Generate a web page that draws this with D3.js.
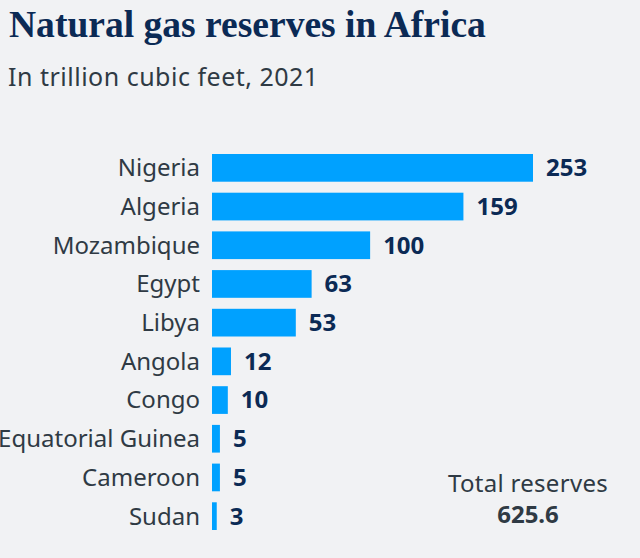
<!DOCTYPE html>
<html>
<head>
<meta charset="utf-8">
<script src="https://cdn.jsdelivr.net/npm/d3@7"></script>
<style>
  html, body { margin: 0; padding: 0; background: #f1f2f4; }
  svg { display: block; }
</style>
</head>
<body>
<svg id="chart" width="640" height="558"></svg>
<script>
const countries = ["Nigeria", "Algeria", "Mozambique", "Egypt", "Libya", "Angola", "Congo", "Equatorial Guinea", "Cameroon", "Sudan"];
const reserves = [253, 159, 100, 63, 53, 12, 10, 5, 5, 3];
const titleText = "Natural gas reserves in Africa";
const subtitleText = "In trillion cubic feet, 2021";
const totalLabel = "Total reserves";
const totalValue = "625.6";

const svg = d3.select("#chart");
const W = 640, H = 558;
svg.append("rect").attr("width", W).attr("height", H).attr("fill", "#f1f2f4");

svg.append("text")
  .attr("x", 9).attr("y", 37)
  .attr("font-family", "'Liberation Serif', serif")
  .attr("font-weight", 700)
  .attr("font-size", 34)
  .attr("fill", "#0b2a55")
  .text(titleText)
  .each(function() {
    const w = this.getComputedTextLength();
    const target = 477;
    d3.select(this).attr("font-size", 34 * target / w);
  });

svg.append("text")
  .attr("x", 8).attr("y", 86)
  .attr("font-family", "'Noto Sans', sans-serif")
  .attr("font-size", 25)
  .attr("letter-spacing", 0.5)
  .attr("fill", "#2f3a44")
  .text(subtitleText);

const x = d3.scaleLinear().domain([0, 203]).range([212, 533]).clamp(true);
const y = d3.scaleBand().domain(countries).range([154, 530]).paddingInner(0.284).paddingOuter(0);

const data = countries.map((c, i) => ({ c, v: reserves[i] }));

svg.append("g").selectAll("rect").data(data).join("rect")
  .attr("x", x(0))
  .attr("y", d => y(d.c))
  .attr("width", d => x(d.v) - x(0))
  .attr("height", y.bandwidth())
  .attr("fill", "#00a1ff");

svg.append("g").selectAll("text").data(data).join("text")
  .attr("x", 200)
  .attr("y", d => y(d.c) + y.bandwidth() / 2)
  .attr("dy", "0.35em")
  .attr("text-anchor", "end")
  .attr("font-family", "'Noto Sans', sans-serif")
  .attr("font-size", 24)
  .attr("fill", "#2f3a44")
  .text(d => d.c);

svg.append("g").selectAll("text").data(data).join("text")
  .attr("x", d => x(d.v) + 13)
  .attr("y", d => y(d.c) + y.bandwidth() / 2)
  .attr("dy", "0.35em")
  .attr("font-family", "'Noto Sans', sans-serif")
  .attr("font-weight", 700)
  .attr("font-size", 24)
  .attr("fill", "#0b2a55")
  .text(d => d.v);

svg.append("text")
  .attr("x", 528).attr("y", 492)
  .attr("text-anchor", "middle")
  .attr("font-family", "'Noto Sans', sans-serif")
  .attr("font-size", 24)
  .attr("letter-spacing", 0.3)
  .attr("fill", "#2f3a44")
  .text(totalLabel);

svg.append("text")
  .attr("x", 528).attr("y", 523)
  .attr("text-anchor", "middle")
  .attr("font-family", "'Noto Sans', sans-serif")
  .attr("font-weight", 700)
  .attr("font-size", 24)
  .attr("fill", "#2f3a44")
  .text(totalValue);
</script>
</body>
</html>
